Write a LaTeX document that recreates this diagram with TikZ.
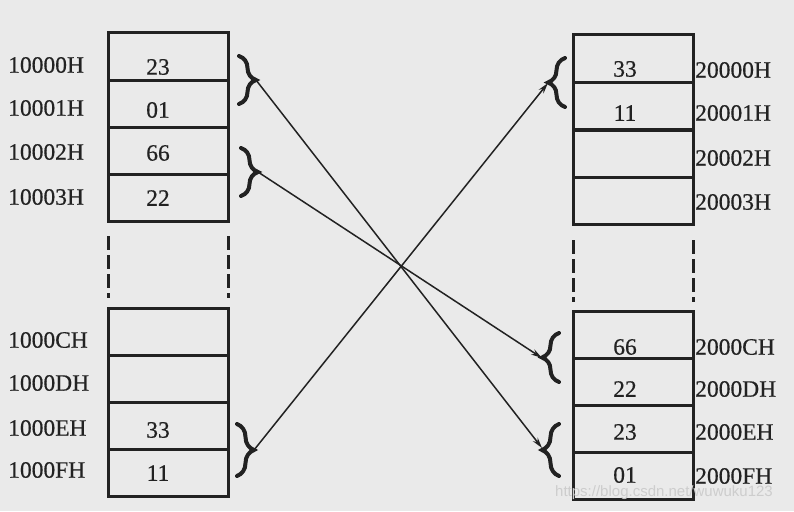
\documentclass[tikz,border=0pt]{standalone}
\usepackage{fontspec}
\setmainfont{Liberation Serif}
\newfontfamily\scanfont{Liberation Serif}[FakeBold=0.5]
\newfontfamily\wmfont{Liberation Sans}
\usetikzlibrary{decorations.pathreplacing,arrows.meta}
\definecolor{bg}{RGB}{234,234,234}
\definecolor{ink}{RGB}{34,34,34}
\definecolor{wm}{RGB}{205,205,205}
\begin{document}
\begin{tikzpicture}[x=1pt,y=-1pt,
  cell/.style={draw=ink,line width=3pt,minimum width=120pt,minimum height=47pt,inner sep=0pt,outer sep=0pt},
  val/.style={text=ink,font=\scanfont\fontsize{23.5}{24}\selectfont,inner sep=0pt},
  addr/.style={val,anchor=west},
  brc/.style={draw=ink,line width=4pt,line cap=round,decorate,decoration={brace,amplitude=17pt}},
  link/.style={draw=ink,line width=1.5pt,-{Stealth[length=11pt,width=6pt]}},
  dashside/.style={draw=ink,line width=3pt,dash pattern=on 14pt off 5pt}]
\fill[bg] (0,0) rectangle (794,511);
\useasboundingbox (0,0) rectangle (794,511);

% left memory column
\node[cell] (L0) at (168,56.5) {};
\node[cell] (L1) at (168,103.5) {};
\node[cell] (L2) at (168,150.5) {};
\node[cell] (L3) at (168,197.5) {};
\node[cell] (LC) at (168,331.5) {};
\node[cell] (LD) at (168,378.5) {};
\node[cell] (LE) at (168,425.5) {};
\node[cell] (LF) at (168,472.5) {};
\draw[dashside] (108,236) -- (108,298);
\draw[dashside] (228,236) -- (228,298);

% right memory column
\node[cell] (R0) at (633,58.5) {};
\node[cell] (R1) at (633,106) {};
\node[cell] (R2) at (633,153.5) {};
\node[cell] (R3) at (633,201) {};
\node[cell] (RC) at (633,334.5) {};
\node[cell] (RD) at (633,381.5) {};
\node[cell] (RE) at (633,428.5) {};
\node[cell] (RF) at (633,475.5) {};
\draw[dashside] (573,240) -- (573,302);
\draw[dashside] (693,240) -- (693,302);

% left addresses
\node[addr] (a10000) at (8,65) {10000H};
\node[addr] (a10001) at (8,108) {10001H};
\node[addr] (a10002) at (8,152) {10002H};
\node[addr] (a10003) at (8,197) {10003H};
\node[addr] (a1000C) at (8,340) {1000CH};
\node[addr] (a1000D) at (8,383) {1000DH};
\node[addr] (a1000E) at (8,428) {1000EH};
\node[addr] (a1000F) at (8,470) {1000FH};

% left values
\node[val] (v0) at (158,67) {23};
\node[val] (v1) at (158,110) {01};
\node[val] (v2) at (158,153) {66};
\node[val] (v3) at (158,198) {22};
\node[val] (vE) at (158,430) {33};
\node[val] (vF) at (158,473) {11};

% right addresses
\node[addr] (a20000) at (695,70) {20000H};
\node[addr] (a20001) at (695,113) {20001H};
\node[addr] (a20002) at (695,158) {20002H};
\node[addr] (a20003) at (695,202) {20003H};
\node[addr] (a2000C) at (695,347) {2000CH};
\node[addr] (a2000D) at (695,389) {2000DH};
\node[addr] (a2000E) at (695,432) {2000EH};
\node[addr] (a2000F) at (695,476) {2000FH};

% right values
\node[val] (w0) at (625,69) {33};
\node[val] (w1) at (625,113) {11};
\node[val] (wC) at (625,347) {66};
\node[val] (wD) at (625,389) {22};
\node[val] (wE) at (625,432) {23};
\node[val] (wF) at (625,475) {01};

% braces
\draw[brc] (239,56) -- (239,104);
\draw[brc] (241,148) -- (241,196);
\draw[brc] (237,424) -- (237,476);
\draw[brc] (565,107) -- (565,58);
\draw[brc] (559,382) -- (559,333);
\draw[brc] (559,476) -- (559,424);

% brace tips
\coordinate (lb1) at (256,80);
\coordinate (lb2) at (258,172);
\coordinate (lb3) at (254,450);
\coordinate (rb1) at (548,83);
\coordinate (rb2) at (542,358);
\coordinate (rb3) at (542,448);

% connectors
\draw[link] (lb1) -- (rb3);
\draw[link] (lb2) -- (rb2);
\draw[link] (lb3) -- (rb1);

% watermark
\node[text=wm,font=\wmfont\fontsize{15}{15}\selectfont,anchor=west,inner sep=0pt] (wmk) at (555,493) {https://blog.csdn.net/wuwuku123};
\end{tikzpicture}
\end{document}
